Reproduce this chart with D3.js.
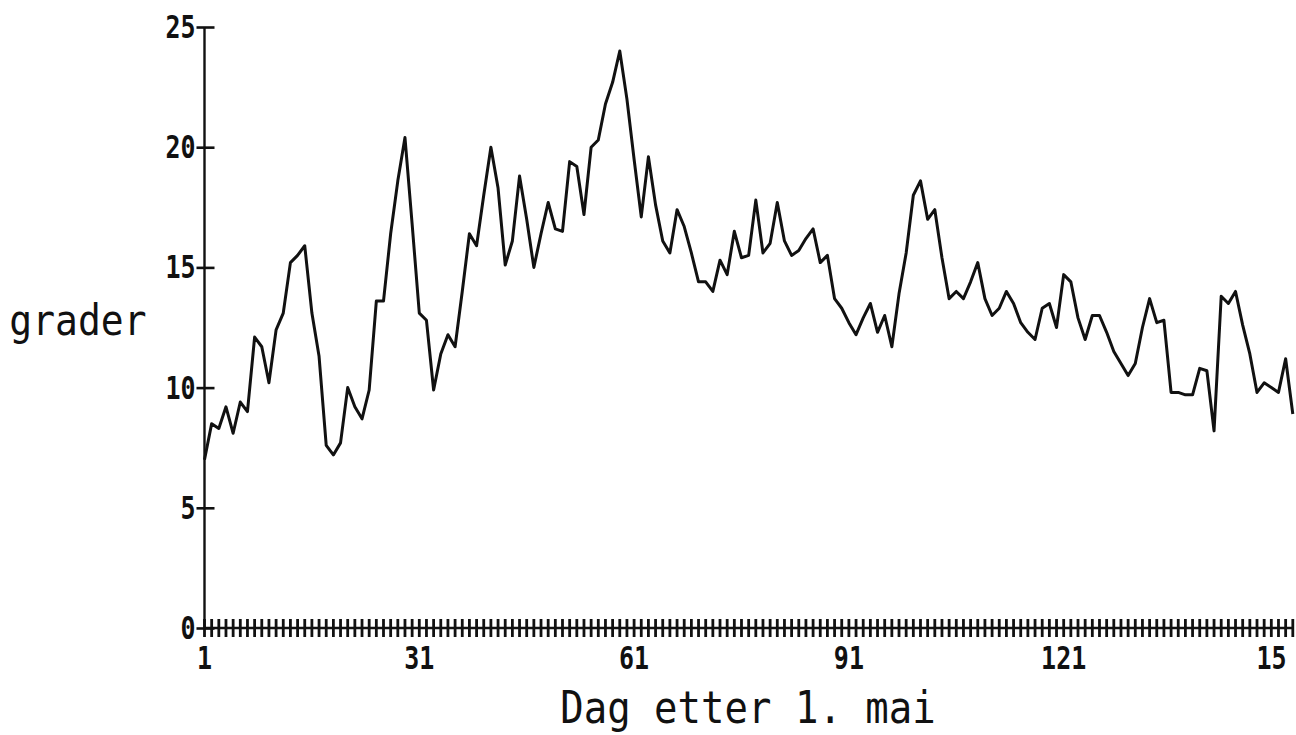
<!DOCTYPE html>
<html>
<head>
<meta charset="utf-8">
<script src="https://cdn.jsdelivr.net/npm/d3@7"></script>
<style>
  html, body { margin: 0; padding: 0; background: #fff; }
  svg { display: block; }
  text { font-family: "DejaVu Sans Mono", "Liberation Mono", monospace; fill: #111; }
</style>
</head>
<body>
<svg id="chart" width="1296" height="735"></svg>
<script>
// Daily temperature (grader) for day 1..153 after 1 May
const temps = [
  7.0, 8.5, 8.3, 9.2, 8.1, 9.4, 9.0, 12.1, 11.7, 10.2,
  12.4, 13.1, 15.2, 15.5, 15.9, 13.1, 11.3, 7.6, 7.2, 7.7,
  10.0, 9.2, 8.7, 9.9, 13.6, 13.6, 16.4, 18.6, 20.4, 16.8,
  13.1, 12.8, 9.9, 11.4, 12.2, 11.7, 14.0, 16.4, 15.9, 18.0,
  20.0, 18.3, 15.1, 16.1, 18.8, 17.0, 15.0, 16.4, 17.7, 16.6,
  16.5, 19.4, 19.2, 17.2, 20.0, 20.3, 21.8, 22.7, 24.0, 22.0,
  19.5, 17.1, 19.6, 17.6, 16.1, 15.6, 17.4, 16.7, 15.6, 14.4,
  14.4, 14.0, 15.3, 14.7, 16.5, 15.4, 15.5, 17.8, 15.6, 16.0,
  17.7, 16.1, 15.5, 15.7, 16.2, 16.6, 15.2, 15.5, 13.7, 13.3,
  12.7, 12.2, 12.9, 13.5, 12.3, 13.0, 11.7, 13.9, 15.6, 18.0,
  18.6, 17.0, 17.4, 15.4, 13.7, 14.0, 13.7, 14.4, 15.2, 13.7,
  13.0, 13.3, 14.0, 13.5, 12.7, 12.3, 12.0, 13.3, 13.5, 12.5,
  14.7, 14.4, 12.9, 12.0, 13.0, 13.0, 12.3, 11.5, 11.0, 10.5,
  11.0, 12.5, 13.7, 12.7, 12.8, 9.8, 9.8, 9.7, 9.7, 10.8,
  10.7, 8.2, 13.8, 13.5, 14.0, 12.6, 11.4, 9.8, 10.2, 10.0,
  9.8, 11.2, 8.9
];
const yTickValues = [0, 5, 10, 15, 20, 25];
const xTickValues = [1, 31, 61, 91, 121, 151];
const xTickLabels = ["1", "31", "61", "91", "121", "15"];
const xTitle = "Dag etter 1. mai";
const yTitle = "grader";

const data = temps.map((v, i) => ({ day: i + 1, value: v }));
const nDays = temps.length;

const svg = d3.select("#chart");
const x = d3.scaleLinear().domain([1, nDays]).range([204.5, 1292.8]);
const y = d3.scaleLinear().domain([0, 25]).range([628, 27]);

// Y axis
const yAxis = d3.axisLeft(y).tickValues(yTickValues).tickSize(0).tickPadding(0).tickFormat(d3.format("d"));
const gy = svg.append("g").attr("transform", `translate(${x(1)},0)`).call(yAxis);
gy.select(".domain").remove();
gy.selectAll(".tick line").remove();
gy.selectAll(".tick").append("line")
  .attr("x1", -8).attr("x2", 10).attr("y1", 0).attr("y2", 0)
  .attr("stroke", "#111").attr("stroke-width", 2.6);
gy.selectAll(".tick text")
  .attr("x", 0).attr("dy", null)
  .attr("text-anchor", "end")
  .attr("dominant-baseline", "central")
  .attr("font-size", 25).attr("font-weight", "bold")
  .attr("transform", "translate(-9,0) scale(1,1.25)")
  .style("font-family", "'DejaVu Sans Mono', monospace")
  .attr("fill", "#111");
gy.append("line")
  .attr("x1", 0).attr("x2", 0).attr("y1", y(25)).attr("y2", y(0))
  .attr("stroke", "#111").attr("stroke-width", 2.4);

// X axis with a tick for every day
const gx = svg.append("g").attr("transform", `translate(0,${y(0)})`);
gx.append("line")
  .attr("x1", x(1)).attr("x2", x(nDays)).attr("y1", 0).attr("y2", 0)
  .attr("stroke", "#111").attr("stroke-width", 2.6);
gx.selectAll("line.day").data(data).join("line")
  .attr("class", "day")
  .attr("x1", d => x(d.day)).attr("x2", d => x(d.day))
  .attr("y1", -9).attr("y2", 9)
  .attr("stroke", "#111").attr("stroke-width", 2.8);
gx.selectAll("text.xl").data(xTickValues).join("text")
  .attr("class", "xl")
  .attr("transform", (d, i) => `translate(${x(d) + (i === xTickValues.length - 1 ? -7 : 0)},41) scale(1,1.25)`)
  .attr("text-anchor", "middle")
  .attr("font-size", 25).attr("font-weight", "bold")
  .text((d, i) => xTickLabels[i]);

// Titles
svg.append("text")
  .attr("transform", "translate(748,723) scale(1,1.12)")
  .attr("text-anchor", "middle")
  .attr("font-size", 39)
  .text(xTitle);
svg.append("text")
  .attr("transform", "translate(78,335) scale(1,1.1)")
  .attr("text-anchor", "middle")
  .attr("font-size", 38)
  .text(yTitle);

// Line
const line = d3.line().x(d => x(d.day)).y(d => y(d.value));
svg.append("path").datum(data)
  .attr("d", line)
  .attr("fill", "none")
  .attr("stroke", "#111")
  .attr("stroke-width", 3)
  .attr("stroke-linejoin", "round");
</script>
</body>
</html>
